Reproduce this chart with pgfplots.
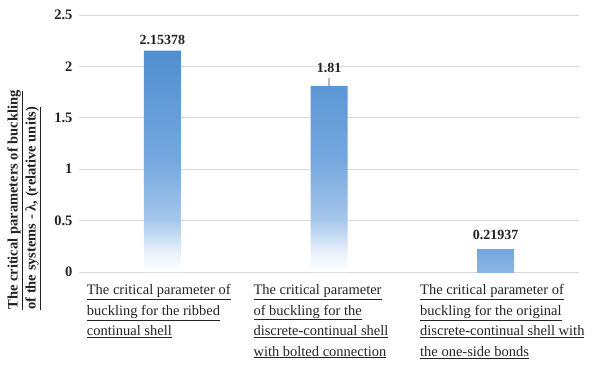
\documentclass[border=0pt]{standalone}
\usepackage{pgfplots}
\pgfplotsset{compat=1.18}
\usepackage{fontspec}
\setmainfont{Liberation Serif}

\definecolor{gridgray}{RGB}{217,217,217}
\definecolor{bartop}{RGB}{80,143,208}
\definecolor{barmid}{RGB}{118,168,222}
\definecolor{barlow}{RGB}{165,198,234}
\definecolor{barfaint}{RGB}{236,243,251}
\definecolor{txt}{RGB}{35,35,35}

% gradient for the tall bars: blue at the top, fading to white at the base
\pgfdeclareverticalshading{barfade}{100bp}{%
  color(0bp)=(white); color(25bp)=(white); color(29bp)=(barfaint);
  color(37bp)=(barlow); color(50bp)=(barmid); color(75bp)=(bartop);
  color(100bp)=(bartop)}
% the short bar keeps a nearly uniform colour
\pgfdeclareverticalshading{barshort}{100bp}{%
  color(0bp)=(barmid!85!white); color(25bp)=(barmid!85!white);
  color(75bp)=(barmid!95!bartop); color(100bp)=(barmid!95!bartop)}

% s = extra lift of the value label above the bar (pt)
\pgfplotstableread{
x  y        err   s
0  2.15378  0     2
1  1.81     0.08  10
}\tallbars
\pgfplotstableread{
x  y        err   s
2  0.21937  0     6
}\shortbars

\begin{document}
\begin{tikzpicture}
\begin{axis}[
  scale only axis,
  width=500pt, height=257pt,
  xmin=-0.5, xmax=2.5,
  ymin=0, ymax=2.5,
  ytick={0,0.5,1,1.5,2,2.5},
  xtick={0,1,2},
  xticklabels={
    {\underline{The critical parameter of}\\\underline{buckling for the ribbed}\\\underline{continual shell}},
    {\underline{The critical parameter}\\\underline{of buckling for the}\\\underline{discrete-continual shell}\\\underline{with bolted connection}},
    {\underline{The critical parameter of}\\\underline{buckling for the original}\\\underline{discrete-continual shell with}\\\underline{the one-side bonds}}},
  xticklabel style={anchor=north west, align=left, xshift=-79pt, yshift=-9pt,
    font=\fontsize{14.5}{20.5}\selectfont, text=txt},
  yticklabel style={font=\fontsize{14.5}{16}\selectfont\bfseries, text=txt, xshift=-3pt},
  /pgf/number format/assume math mode=true,
  ymajorgrids,
  grid style={gridgray, line width=1pt},
  axis line style={draw=none},
  major tick style={draw=none},
  ylabel={\underline{The critical parameters of buckling}\\
          \underline{of the systems - λ, (relative units)}},
  ylabel style={at={(axis description cs:-0.11,-0.16)}, anchor=west, rotate=0,
    align=left, font=\fontsize{14.5}{18}\selectfont\bfseries, text=txt},
  nodes near coords,
  point meta=explicit,
  nodes near coords style={font=\fontsize{14}{16}\selectfont\bfseries, text=txt,
    anchor=south, yshift=\lshift pt, /pgf/number format/.cd, fixed, precision=5},
]
\addplot[ybar, bar width=37pt, bar shift=0pt, draw=none, shading=barfade,
  visualization depends on={\thisrow{s} \as \lshift},
  error bars/.cd, y dir=plus, y explicit, error mark=none,
  error bar style={gray!55, line width=1.2pt}]
  table[x=x, y=y, y error=err, meta=y]{\tallbars};
\addplot[ybar, bar width=37pt, bar shift=0pt, draw=none, shading=barshort,
  visualization depends on={\thisrow{s} \as \lshift}]
  table[x=x, y=y, meta=y]{\shortbars};
\end{axis}
\path ([shift={(-79pt,-93pt)}]current axis.south west)
  rectangle ([shift={(19pt,15pt)}]current axis.north east);
\end{tikzpicture}
\end{document}
